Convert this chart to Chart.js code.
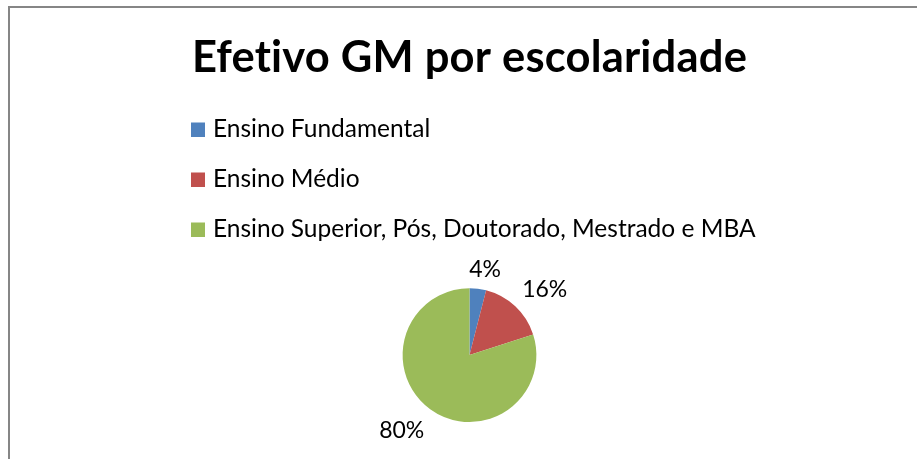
<!DOCTYPE html>
<html>
<head>
<meta charset="utf-8">
<script src="https://cdn.jsdelivr.net/npm/chart.js@4.4.0/dist/chart.umd.min.js"></script>
<style>
  html, body { margin: 0; padding: 0; background: #fff; }
  #wrap { position: relative; width: 917px; height: 459px; }
</style>
</head>
<body>
<div id="wrap"><canvas id="pie-chart"></canvas></div>
<script>
const chartTitle = 'Efetivo GM por escolaridade';
const categories = ['Ensino Fundamental', 'Ensino Médio', 'Ensino Superior, Pós, Doutorado, Mestrado e MBA'];
const shares = [4, 16, 80];
const sliceColors = ['#4F81BD', '#C0504D', '#9BBB59'];

const FONT = 'Lato, "Open Sans", sans-serif';

// frame + legend list drawn by hand, Excel style
const framePlugin = {
  id: 'frame',
  beforeDraw(chart) {
    const ctx = chart.ctx;
    // tiny spacing keeps Lato from joining "ti" into a ligature
    ctx.letterSpacing = '0.2px';
    ctx.save();
    ctx.strokeStyle = '#868686';
    ctx.lineWidth = 2;
    ctx.beginPath();
    ctx.moveTo(9, chart.height);
    ctx.lineTo(9, 7);
    ctx.lineTo(chart.width, 7);
    ctx.stroke();
    ctx.restore();
  },
  afterDraw(chart) {
    const ctx = chart.ctx;
    const colors = chart.data.datasets[0].backgroundColor;
    ctx.save();
    ctx.letterSpacing = '0px';
    ctx.font = '24.5px ' + FONT;
    ctx.textBaseline = 'alphabetic';
    chart.data.labels.forEach((label, i) => {
      const base = 137 + i * 50;
      ctx.fillStyle = colors[i];
      ctx.fillRect(191, base - 14.5, 14, 14.5);
      ctx.fillStyle = '#000';
      ctx.fillText(label, 213, base);
    });
    ctx.restore();
  }
};

// percent labels outside the slices
const outsideLabels = {
  id: 'outsideLabels',
  afterDatasetsDraw(chart) {
    const ctx = chart.ctx;
    const meta = chart.getDatasetMeta(0);
    const data = chart.data.datasets[0].data;
    const total = data.reduce((a, b) => a + b, 0);
    const clamp = v => Math.max(-1, Math.min(1, v));
    ctx.save();
    ctx.letterSpacing = '0px';
    ctx.font = '23px ' + FONT;
    ctx.fillStyle = '#000';
    ctx.textAlign = 'center';
    ctx.textBaseline = 'middle';
    meta.data.forEach((arc, i) => {
      const p = arc.getProps(['x', 'y', 'startAngle', 'endAngle', 'outerRadius'], true);
      const mid = (p.startAngle + p.endAngle) / 2;
      const text = Math.round(data[i] / total * 100) + '%';
      const w = ctx.measureText(text).width / 2;
      const h = 11;
      const d = p.outerRadius + 10;
      const cx = p.x + Math.cos(mid) * d + w * clamp(Math.cos(mid) * 3);
      const cy = p.y + Math.sin(mid) * d + h * clamp(Math.sin(mid) * 3) + 2;
      ctx.fillText(text, cx, cy);
    });
    ctx.restore();
  }
};

new Chart(document.getElementById('pie-chart'), {
  type: 'pie',
  data: {
    labels: categories,
    datasets: [{
      data: shares,
      backgroundColor: sliceColors,
      borderWidth: 0
    }]
  },
  options: {
    responsive: true,
    maintainAspectRatio: false,
    animation: false,
    layout: { padding: { left: 22, right: 0, top: 0, bottom: 37 } },
    plugins: {
      legend: { display: false },
      tooltip: { enabled: false },
      title: {
        display: true,
        text: chartTitle,
        color: '#000',
        font: { family: FONT, size: 43.5, weight: 'bold', lineHeight: 1.2 },
        padding: { top: 32, bottom: 204 }
      }
    }
  },
  plugins: [framePlugin, outsideLabels]
});
</script>
</body>
</html>
